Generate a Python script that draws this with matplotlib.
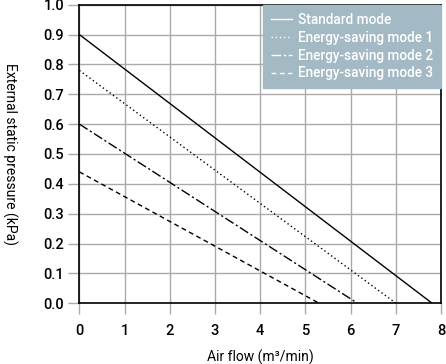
import matplotlib.pyplot as plt

plt.rcParams['font.family'] = ['Roboto', 'DejaVu Sans']
plt.rcParams['font.weight'] = 'medium'

# air flow at zero pressure, pressure at zero air flow
modes = ["Standard mode", "Energy-saving mode 1", "Energy-saving mode 2", "Energy-saving mode 3"]
max_flow = [7.8, 7.0, 6.15, 5.3]
max_pressure = [0.90, 0.78, 0.60, 0.44]
styles = ["-", (0, (1, 2)), (0, (7, 2, 1.5, 2)), (0, (3.5, 2.5))]

x_ticks = [0, 1, 2, 3, 4, 5, 6, 7, 8]
y_ticks = [0.0, 0.1, 0.2, 0.3, 0.4, 0.5, 0.6, 0.7, 0.8, 0.9, 1.0]

fig = plt.figure(figsize=(4.46, 3.64), dpi=100)
ax = fig.add_axes([0.178, 0.167, 0.811, 0.820])

for name, q, p, ls in zip(modes, max_flow, max_pressure, styles):
    ax.plot([0, q], [p, 0], color="black", linestyle=ls, linewidth=1.0, label=name)

ax.set_xlim(0, 8)
ax.set_ylim(0, 1.0)
ax.set_xticks(x_ticks)
ax.set_yticks(y_ticks)
ax.set_yticklabels([f"{v:.1f}" for v in y_ticks])
ax.grid(True, color="#aaaaaa", linewidth=1.0)
ax.set_axisbelow(True)
ax.tick_params(axis="both", length=8, width=1.0, color="#aaaaaa", labelsize=10.5)
ax.tick_params(axis="x", pad=7)
ax.tick_params(axis="y", pad=3)
for s in ax.spines.values():
    s.set_linewidth(1.2)
    s.set_color("black")
ax.set_xlabel("Air flow (m³/min)", fontsize=10)
ax.xaxis.set_label_coords(0.5, -0.155)
ax.set_ylabel("External static pressure (kPa)", fontsize=10, rotation=270, va="center")
ax.yaxis.set_label_coords(-0.193, 0.5)

leg = ax.legend(loc="upper right", bbox_to_anchor=(1.0, 1.0), frameon=True, fancybox=False,
                fontsize=9.8, handlelength=1.55, handletextpad=0.4, labelspacing=0.28,
                borderpad=0.6, borderaxespad=0)
leg.get_frame().set_facecolor("#a3b9c4")
leg.get_frame().set_edgecolor("#a3b9c4")
leg.get_frame().set_alpha(1.0)
for t in leg.get_texts():
    t.set_color("white")
for h in leg.get_lines():
    h.set_color("white")

fig.savefig("out.png", dpi=100)
